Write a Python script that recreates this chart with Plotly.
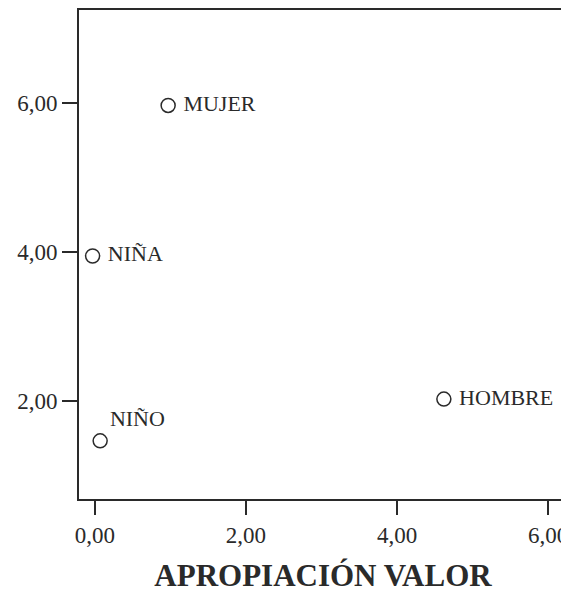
import plotly.graph_objects as go

categories = ["MUJER", "NIÑA", "NIÑO", "HOMBRE"]
x_vals = [0.97, -0.03, 0.07, 4.62]
y_vals = [5.97, 3.95, 1.47, 2.03]
text_pos = ["middle right", "middle right", "top right", "middle right"]
label_pad = [" ", " ", "", " "]

x_ticks = [0, 2, 4, 6]
x_tick_labels = ["0,00", "2,00", "4,00", "6,00"]
y_ticks = [2, 4, 6]
y_tick_labels = ["2,00", "4,00", "6,00"]

ink = "#2a2a2a"
serif = "Liberation Serif, Times New Roman, serif"

fig = go.Figure()
fig.add_trace(go.Scatter(
    x=x_vals, y=y_vals, mode="markers+text",
    text=[p + c for p, c in zip(label_pad, categories)], textposition=text_pos,
    textfont=dict(family=serif, size=22, color=ink),
    marker=dict(symbol="circle-open", size=14, color=ink, line=dict(width=1.5, color=ink)),
    showlegend=False, cliponaxis=False,
))

fig.update_layout(
    width=561, height=585,
    margin=dict(l=71, r=2, t=0, b=94),
    paper_bgcolor="white", plot_bgcolor="white",
    font=dict(family=serif, color=ink),
    xaxis=dict(
        range=[-0.21, 6.25], tickvals=x_ticks, ticktext=x_tick_labels,
        showgrid=False, zeroline=False, showline=True, linecolor=ink, linewidth=2,
        mirror=True, ticks="outside", ticklen=14, tickwidth=2, tickcolor=ink,
        tickfont=dict(family=serif, size=23, color=ink),
        title=dict(text="<b>APROPIACIÓN VALOR</b>", font=dict(family=serif, size=31, color=ink), standoff=20),
    ),
    yaxis=dict(
        range=[0.69, 7.25], tickvals=y_ticks, ticktext=y_tick_labels,
        showgrid=False, zeroline=False, showline=True, linecolor=ink, linewidth=2,
        mirror=True, ticks="outside", ticklen=15, tickwidth=2, tickcolor=ink,
        tickfont=dict(family=serif, size=23, color=ink),
    ),
)

fig.write_html("out.html")
